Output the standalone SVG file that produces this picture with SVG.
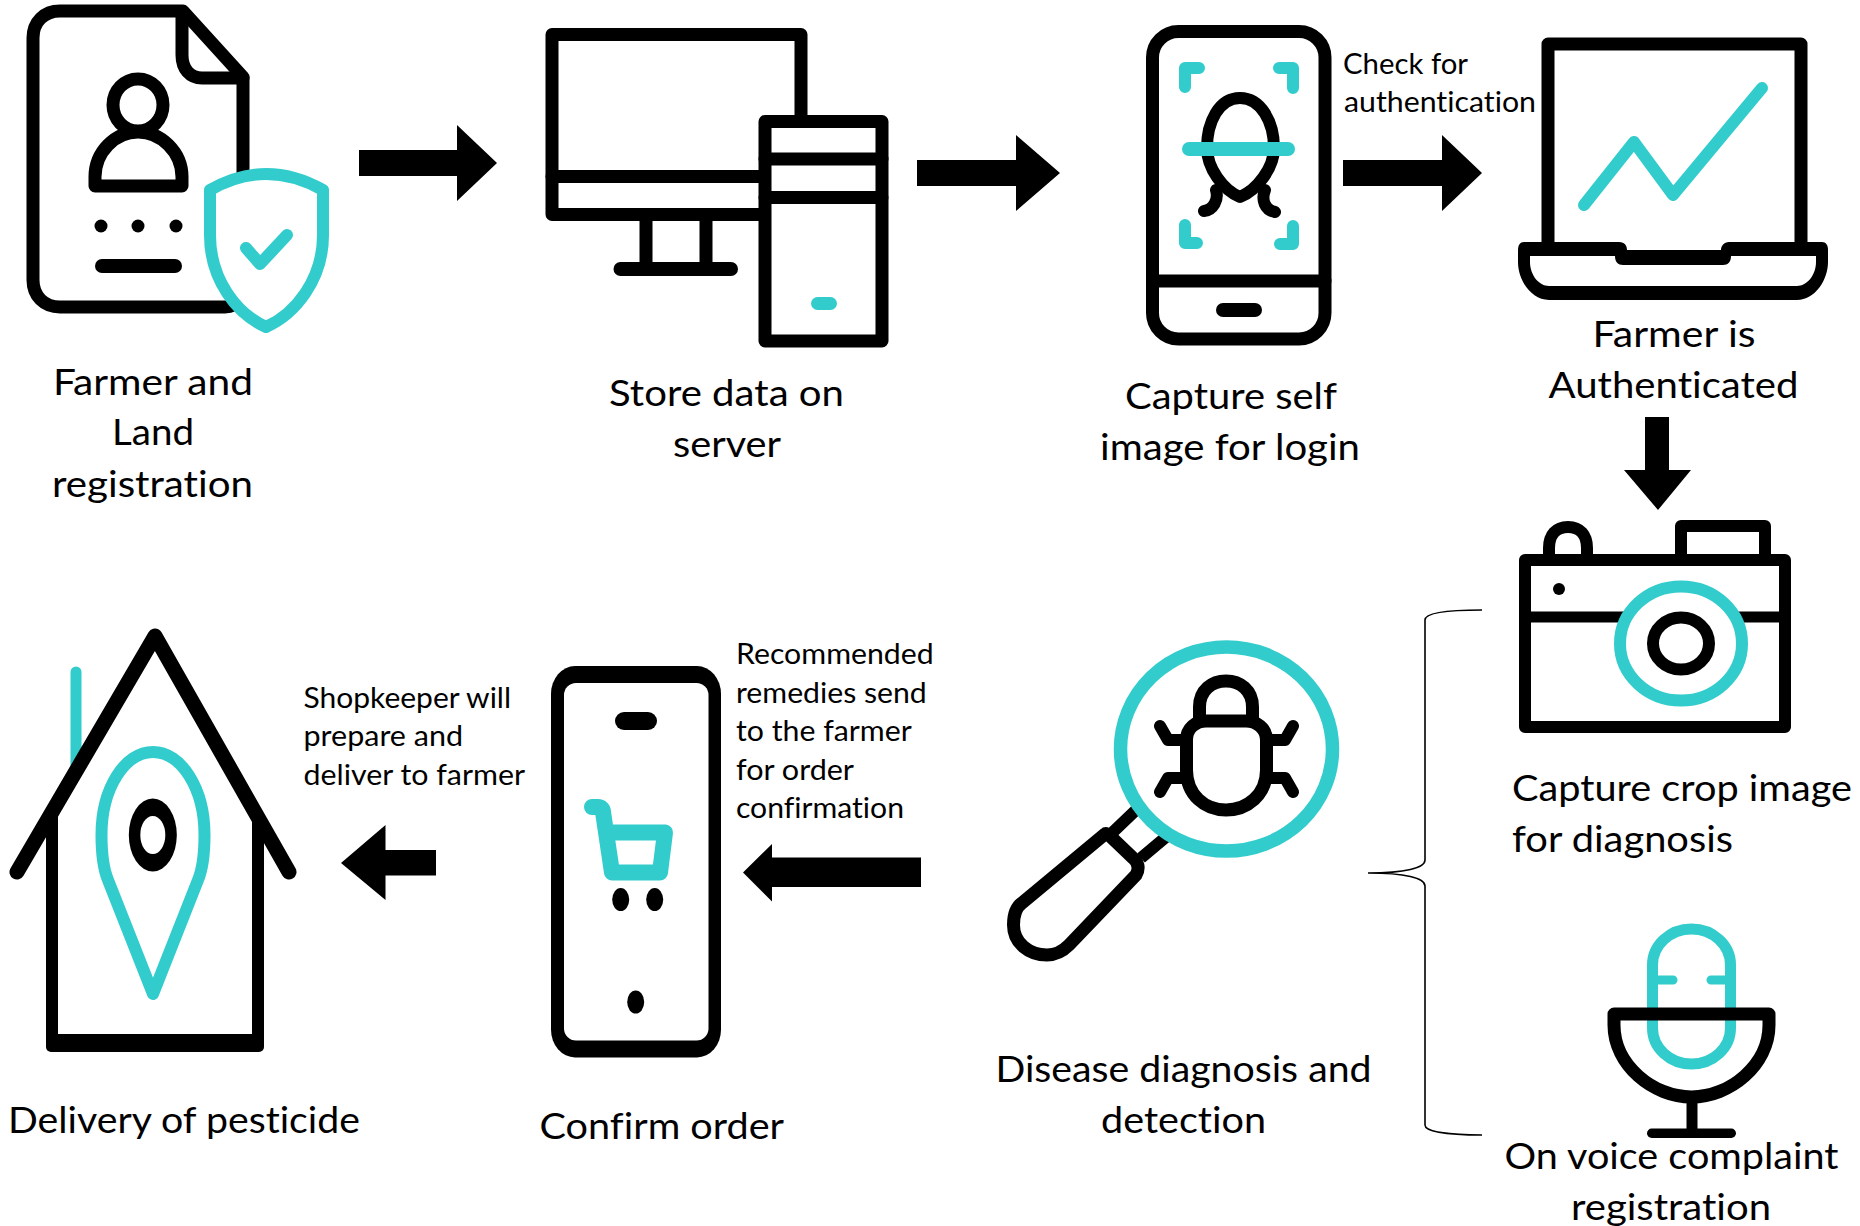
<svg xmlns="http://www.w3.org/2000/svg" width="1860" height="1226" viewBox="0 0 1860 1226">
<style>
.k{fill:none;stroke:#000;stroke-width:13;stroke-linejoin:round;stroke-linecap:round}
.t{fill:none;stroke:#33cccc;stroke-width:12;stroke-linejoin:round;stroke-linecap:round}
.w{fill:#fff}
.b{fill:#000}
.c{fill:#33cccc}
text{font-family:Lato,"Open Sans",sans-serif;fill:#000;font-size:37px;font-variant-ligatures:none}
.s{font-size:28px}
.arrow{fill:#000;stroke:none}
.brace{fill:none;stroke:#000;stroke-width:1.6}
</style>
<rect width="1860" height="1226" fill="#fff"/>
<g id="connectors">
<path class="arrow" d="M359,150H457V125L497,163L457,201V176H359Z"/>
<path class="arrow" d="M917,160H1016V135L1060,173L1016,211V186H917Z"/>
<path class="arrow" d="M1343,160H1442V135L1482,173L1442,211V186H1343Z"/>
<path class="arrow" d="M1645,417H1669V470H1691L1658,510L1624,470H1645Z"/>
<path class="arrow" d="M921,857.500H772V844L743,872.500L772,901.500V887H921Z"/>
<path class="arrow" d="M436,850H385.500V825L341,863L385.500,900V875.500H436Z"/>
<path class="brace" d="M1482,610C1450,610 1425,612 1425,620V860C1425,868 1405,873 1368,873C1405,873 1425,878 1425,886V1125C1425,1132 1450,1135 1482,1135"/>
</g>
<g id="node-registration">
<path class="k" d="M183,11H60C44,11 33,22 33,38V280C33,296 44,307 60,307H225C238,307 243,296 243,280V77L183,11Z"/>
<path class="k" d="M182,14V55C182,69 190,78 202,78H243"/>
<ellipse class="k" cx="138" cy="105" rx="25" ry="26"/>
<path class="k" d="M95,186V177C95,152 115,132 138,132C161,132 182,152 182,177V186Z"/>
<circle class="b" cx="101" cy="226" r="6.500"/><circle class="b" cx="138" cy="226" r="6.500"/><circle class="b" cx="176" cy="226" r="6.500"/>
<rect class="b" x="95" y="259" width="87" height="14" rx="7"/>
<path class="t w" style="fill:#fff" d="M210,190Q266,158 323,190V235C323,280 295,314 266,327C237,314 210,280 210,235Z"/>
<path class="t" d="M246,248L260,264L287,235"/>
<text x="53" y="395" textLength="200" lengthAdjust="spacingAndGlyphs">Farmer and</text>
<text x="112" y="445" textLength="82" lengthAdjust="spacingAndGlyphs">Land</text>
<text x="52" y="497" textLength="201" lengthAdjust="spacingAndGlyphs">registration</text>
</g>
<g id="node-server">
<path class="k" d="M552,34.500H801V214.500H552Z"/>
<path class="k" d="M552,176.500H770"/>
<path class="k" d="M646,218V268M706,218V268"/>
<rect class="b" x="613.500" y="262" width="124.500" height="14" rx="7"/>
<rect class="k" style="fill:#fff" x="765" y="121.500" width="117" height="219.500"/>
<path class="k" d="M765,159H882M765,197.500H882"/>
<rect class="c" x="811" y="297" width="26" height="13" rx="6.500"/>
<text x="609" y="406" textLength="235" lengthAdjust="spacingAndGlyphs">Store data on</text>
<text x="673" y="457" textLength="108" lengthAdjust="spacingAndGlyphs">server</text>
</g>
<g id="node-login">
<rect class="k" x="1152.500" y="31.500" width="172.500" height="307.500" rx="26"/>
<path class="k" d="M1153,281H1325"/>
<rect class="b" x="1216" y="303" width="46" height="14" rx="7"/>
<path class="k" style="stroke-width:12" d="M1240,98C1219,98 1207,122 1207,148C1207,168 1223,190 1240,197C1257,190 1274,168 1274,148C1274,122 1261,98 1240,98Z"/>
<path class="k" style="stroke-width:12" d="M1216,190C1219,200 1213,210 1204,211M1265,190C1261,200 1265,210 1275,212"/>
<rect class="c" x="1182" y="142" width="113" height="14" rx="7"/>
<path class="t" d="M1185,87V68H1199M1279,68H1293V88M1185,225V243H1197M1293,226V244H1280"/>
<text x="1125" y="409" textLength="212" lengthAdjust="spacingAndGlyphs">Capture self</text>
<text x="1100" y="460" textLength="260" lengthAdjust="spacingAndGlyphs">image for login</text>
</g>
<text class="s" x="1343" y="74" textLength="125" lengthAdjust="spacingAndGlyphs">Check for</text>
<text class="s" x="1344" y="112" textLength="192" lengthAdjust="spacingAndGlyphs">authentication</text>
<g id="node-authenticated" transform="translate(-3 0)">
<path class="k" d="M1551,245V44H1804V245"/>
<path class="b" fill-rule="evenodd" d="M1527,242H1622C1628,242 1630,246 1630,250H1724C1724,246 1727,242 1732,242H1825C1829,242 1831,245 1831,250V262C1831,280 1818,300 1800,300H1552C1534,300 1521,280 1521,262V250C1521,245 1523,242 1527,242ZM1533,256V262C1533,275 1542,286 1552,286H1800C1810,286 1819,275 1819,262V256H1734C1734,262 1731,265 1726,265H1626C1621,265 1618,262 1618,256Z"/>
<path class="t" d="M1587,205L1637,142L1676,195L1765,88"/>
<text x="1595.500" y="347" textLength="163" lengthAdjust="spacingAndGlyphs">Farmer is</text>
<text x="1551.500" y="398" textLength="250" lengthAdjust="spacingAndGlyphs">Authenticated</text>
</g>
<g id="node-camera">
<path class="k" style="stroke-width:12" d="M1525,560H1785V727H1525Z"/>
<path class="k" style="stroke-width:11;stroke-linecap:butt" d="M1525,617H1785"/>
<path class="k" style="stroke-width:12;stroke-linecap:butt" d="M1549,560V548C1549,535 1556,527 1568,527C1580,527 1587,535 1587,548V560"/>
<path class="k" style="stroke-width:12;stroke-linecap:butt" d="M1681,560V526H1765V560"/>
<circle class="b" cx="1559" cy="589" r="6"/>
<ellipse cx="1681" cy="643.500" rx="61" ry="57" fill="#fff" stroke="#33cccc" stroke-width="12"/>
<ellipse class="k" style="stroke-width:12" cx="1681" cy="643.500" rx="28" ry="26"/>
<text x="1512" y="801" textLength="340" lengthAdjust="spacingAndGlyphs">Capture crop image</text>
<text x="1512" y="852" textLength="221" lengthAdjust="spacingAndGlyphs">for diagnosis</text>
</g>
<g id="node-voice">
<rect class="t" style="stroke-width:11" x="1652.500" y="929" width="78" height="135" rx="39" ry="36"/>
<path class="t" style="stroke-width:9" d="M1654,980H1673M1711,980H1730"/>
<path class="k" d="M1614,1014H1769V1025C1769,1065 1730,1097 1691.500,1097C1653,1097 1614,1065 1614,1025Z"/>
<path class="k" style="stroke-width:11;stroke-linecap:butt" d="M1692,1100V1132"/>
<rect class="b" x="1647" y="1128.500" width="89" height="9.500" rx="4.700"/>
<text x="1504.500" y="1169" textLength="334" lengthAdjust="spacingAndGlyphs">On voice complaint</text>
<text x="1571" y="1220" textLength="200" lengthAdjust="spacingAndGlyphs">registration</text>
</g>
<g id="node-diagnosis">
<path class="k" style="stroke-width:12;stroke-linecap:butt" d="M1113,832L1136,810M1141,858L1166,837"/>
<path class="k" d="M1105,834L1022,903C1015,908 1013.500,917 1013.500,925C1013.500,943 1029,955 1047,955C1055,955 1063,951 1069,945L1136,875C1140,868 1138,862 1133,858L1110,836C1108,834 1106,833 1105,834Z"/>
<ellipse cx="1226.500" cy="749" rx="106" ry="102" fill="#fff" stroke="#33cccc" stroke-width="13.500"/>
<path class="k" d="M1186.500,740V770C1186.500,795 1205,810 1226,810C1247,810 1266.500,795 1266.500,770V740C1266.500,728 1256,721 1246,721H1206C1196,721 1186.500,728 1186.500,740Z"/>
<path class="k" d="M1199.500,720V707C1199.500,690 1212,681 1226,681C1240,681 1252.500,690 1252.500,707V720"/>
<path class="k" style="stroke-width:12" d="M1186,740H1168L1160,726M1266,740H1285L1293,726M1186,778H1168L1160,792M1266,778H1285L1293,792"/>
<text x="995.500" y="1082" textLength="376" lengthAdjust="spacingAndGlyphs">Disease diagnosis and</text>
<text x="1101" y="1132.500" textLength="165" lengthAdjust="spacingAndGlyphs">detection</text>
</g>
<g id="node-order">
<rect class="b" x="551" y="666" width="170" height="391.500" rx="24" ry="28"/>
<rect class="w" x="564" y="683" width="144.500" height="357.500" rx="12"/>
<rect class="b" x="615" y="712" width="42" height="18" rx="9"/>
<path class="t" style="stroke-width:16" d="M592,807H598C601,807 603,809 603,812L612,872.500H660L665,832.500H606"/>
<ellipse class="b" cx="620.700" cy="899.600" rx="8.500" ry="11.500"/>
<ellipse class="b" cx="654.700" cy="899.600" rx="8.500" ry="11.500"/>
<ellipse class="b" cx="635.700" cy="1002" rx="8.500" ry="11.500"/>
<text x="539.500" y="1139" textLength="244.500" lengthAdjust="spacingAndGlyphs">Confirm order</text>
</g>
<text class="s" x="736" y="663.600" textLength="197.700" lengthAdjust="spacingAndGlyphs">Recommended</text>
<text class="s" x="736" y="703" textLength="190.700" lengthAdjust="spacingAndGlyphs">remedies send</text>
<text class="s" x="736" y="740.700" textLength="175.700" lengthAdjust="spacingAndGlyphs">to the farmer</text>
<text class="s" x="736" y="779.600" textLength="118" lengthAdjust="spacingAndGlyphs">for order</text>
<text class="s" x="736" y="818" textLength="168" lengthAdjust="spacingAndGlyphs">confirmation</text>
<g id="node-delivery">
<path class="t" style="stroke-width:11" d="M76,672V765"/>
<path class="k" style="stroke-width:12;stroke-linecap:butt" d="M52,815V1040M258,815V1040"/>
<rect class="b" x="46" y="1034" width="218" height="18" rx="5"/>
<path class="k" style="stroke-width:15" d="M17,872L155,636L289,872"/>
<path class="t" d="M153,994L108,880C103,868 101.500,850 101.500,835C101.500,788 125,752 153,752C181,752 204.500,788 204.500,835C204.500,850 203,868 198,880Z"/>
<ellipse class="b" cx="152.800" cy="835" rx="24" ry="36.500"/>
<ellipse class="w" cx="152.800" cy="835" rx="12.500" ry="19"/>
<text x="8" y="1133" textLength="352" lengthAdjust="spacingAndGlyphs">Delivery of pesticide</text>
</g>
<text class="s" x="303.500" y="708" textLength="207.500" lengthAdjust="spacingAndGlyphs">Shopkeeper will</text>
<text class="s" x="303.500" y="746" textLength="159.500" lengthAdjust="spacingAndGlyphs">prepare and</text>
<text class="s" x="303.500" y="785" textLength="221.500" lengthAdjust="spacingAndGlyphs">deliver to farmer</text>
</svg>
